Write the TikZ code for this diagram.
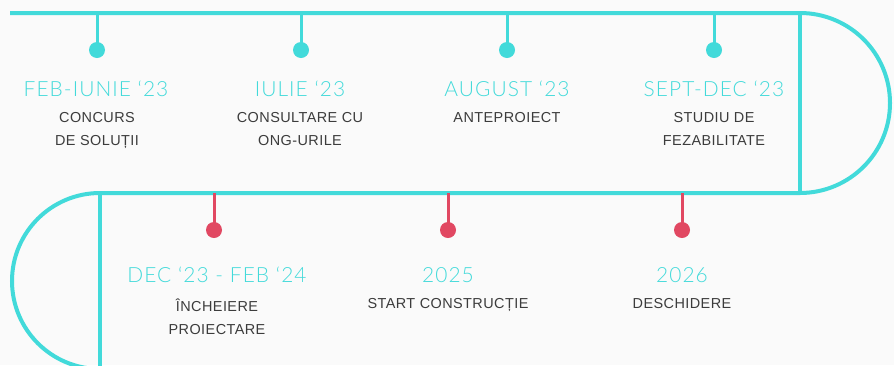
\documentclass[tikz,border=0pt]{standalone}
\usepackage{fontspec}
\setmainfont{Liberation Sans}
\newfontfamily\datefont[LetterSpace=5]{Lato Light}
\newfontfamily\descfont[LetterSpace=3]{Liberation Sans}
\definecolor{teal}{HTML}{42DADA}
\definecolor{rose}{HTML}{E14862}
\definecolor{ink}{HTML}{3C3C3C}
\definecolor{paper}{HTML}{FAFAFA}
\begin{document}
\begin{tikzpicture}[x=1bp,y=-1bp,
  track/.style={teal,line width=4bp},
  stem/.style={line width=3bp},
  knob/.style={circle,inner sep=0pt,minimum size=16bp},
  datelbl/.style={text=teal,font=\datefont\fontsize{21}{24}\selectfont},
  desclbl/.style={text=ink,align=center,font=\descfont\fontsize{14.5}{23}\selectfont}]
\fill[paper] (0,0) rectangle (894,365);
\useasboundingbox (0,0) rectangle (894,365);
% the track
\draw[track] (10,13) -- (800,13) arc (90:-90:90bp) -- (100,193) arc (90:270:88bp);
\draw[track] (800,13) -- (800,193);
\draw[track] (100,193) -- (100,375);
% upper milestones
\coordinate (t1) at (97,13);
\coordinate (t2) at (301,13);
\coordinate (t3) at (507,13);
\coordinate (t4) at (714,13);
\node[knob,fill=teal] (k1) at (97,50) {};
\node[knob,fill=teal] (k2) at (301,50) {};
\node[knob,fill=teal] (k3) at (507,50) {};
\node[knob,fill=teal] (k4) at (714,50) {};
\draw[stem,teal] (t1) -- (k1.center);
\draw[stem,teal] (t2) -- (k2.center);
\draw[stem,teal] (t3) -- (k3.center);
\draw[stem,teal] (t4) -- (k4.center);
\node[datelbl] (d1) at (96,89) {FEB-IUNIE ‘23};
\node[datelbl] (d2) at (300,89) {IULIE ‘23};
\node[datelbl] (d3) at (507,89) {AUGUST ‘23};
\node[datelbl] (d4) at (714,89) {SEPT-DEC ‘23};
\node[desclbl,anchor=north] (s1) at (97,109) {CONCURS\\DE SOLUȚII};
\node[desclbl,anchor=north] (s2) at (300,109) {CONSULTARE CU\\ONG-URILE};
\node[desclbl,anchor=north] (s3) at (507,109) {ANTEPROIECT};
\node[desclbl,anchor=north] (s4) at (714,109) {STUDIU DE\\FEZABILITATE};
% lower milestones
\coordinate (t5) at (214,193);
\coordinate (t6) at (448,193);
\coordinate (t7) at (682,193);
\node[knob,fill=rose] (k5) at (214,230) {};
\node[knob,fill=rose] (k6) at (448,230) {};
\node[knob,fill=rose] (k7) at (682,230) {};
\draw[stem,rose] (t5) -- (k5.center);
\draw[stem,rose] (t6) -- (k6.center);
\draw[stem,rose] (t7) -- (k7.center);
\node[datelbl] (d5) at (217,275) {DEC ‘23 - FEB ‘24};
\node[datelbl] (d6) at (448,275) {2025};
\node[datelbl] (d7) at (682,275) {2026};
\node[desclbl,anchor=north] (s5) at (217,295) {ÎNCHEIERE\\PROIECTARE};
\node[desclbl,anchor=north] (s6) at (448,295) {START CONSTRUCȚIE};
\node[desclbl,anchor=north] (s7) at (682,295) {DESCHIDERE};
\end{tikzpicture}
\end{document}
